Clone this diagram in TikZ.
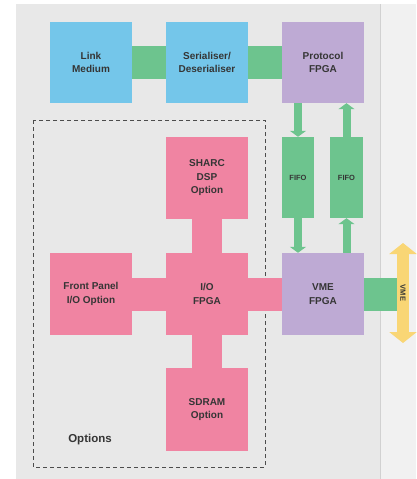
\documentclass[tikz,border=0pt]{standalone}
\usepackage{fontspec}
\setmainfont{Liberation Sans}
\usetikzlibrary{arrows.meta}
\definecolor{panel}{HTML}{E8E8E8}
\definecolor{strip}{HTML}{F1F1F1}
\definecolor{cblue}{HTML}{74C6EA}
\definecolor{cpink}{HTML}{F084A2}
\definecolor{cpurple}{HTML}{BEAAD4}
\definecolor{cgreen}{HTML}{6DC48E}
\definecolor{cyellow}{HTML}{F9D675}
\definecolor{ctext}{HTML}{353535}
\tikzset{
  blk/.style={draw=none, minimum width=82pt, minimum height=82pt, inner sep=1pt, align=center,
    text=ctext, font=\fontsize{10}{13.5}\selectfont\bfseries},
  bluebox/.style={blk, fill=cblue},
  pinkbox/.style={blk, fill=cpink},
  purplebox/.style={blk, fill=cpurple},
  fifobox/.style={blk, fill=cgreen, minimum width=32pt, minimum height=81pt, font=\fontsize{7.5}{9}\selectfont\bfseries},
  gconn/.style={cgreen, line width=33pt},
  pconn/.style={cpink, line width=33pt},
  pvconn/.style={cpink, line width=30pt},
  fifoarrow/.style={cgreen, line width=8pt, -{Triangle[width=16pt,length=6pt]}},
}
\begin{document}
\begin{tikzpicture}[x=1pt,y=-1pt]
\useasboundingbox (0,0) rectangle (416,479);
\fill[white] (0,0) rectangle (416,479);
\fill[panel] (16,4) rectangle (380,479);
\fill[strip] (380,4) rectangle (416,479);
\draw[black!18, line width=0.8pt] (380,4) -- (380,479);
% options frame
\draw[black!70, line width=0.9pt, dash pattern=on 4pt off 3pt] (33,120) rectangle (265,467);
\node[font=\fontsize{11.5}{13}\selectfont\bfseries, text=ctext] (optlbl) at (90,440) {Options};
% blocks
\node[bluebox, minimum height=81pt] (link) at (91,62.5) {Link\\Medium};
\node[bluebox, minimum height=81pt] (ser) at (207,62.5) {Serialiser/\\Deserialiser};
\node[purplebox, minimum height=81pt] (proto) at (323,62.5) {Protocol\\FPGA};
\node[pinkbox] (sharc) at (207,178) {SHARC\\DSP\\Option};
\node[pinkbox] (io) at (207,294) {I/O\\FPGA};
\node[pinkbox] (fp) at (91,294) {Front Panel\\I/O Option};
\node[purplebox] (vme) at (323,294) {VME\\FPGA};
\node[pinkbox, minimum height=83pt] (sdram) at (207,409.5) {SDRAM\\Option};
\node[fifobox] (fifol) at (298,177.5) {FIFO};
\node[fifobox, minimum width=33pt] (fifor) at (346.5,177.5) {FIFO};
% connectors
\draw[gconn] (link.east) -- (ser.west);
\draw[gconn] (ser.east) -- (proto.west);
\draw[pvconn] (sharc.south) -- (io.north);
\draw[pvconn] (io.south) -- (sdram.north);
\draw[pconn] (fp.east) -- (io.west);
\draw[pconn] (io.east) -- (vme.west);
\draw[fifoarrow] (proto.south -| fifol) -- (fifol.north);
\draw[fifoarrow] (fifol.south) -- (vme.north -| fifol);
\draw[fifoarrow] (vme.north -| fifor) -- (fifor.south);
\draw[fifoarrow] (fifor.north) -- (proto.south -| fifor);
% VME bus
\coordinate (bustop) at (403,243);
\coordinate (busbot) at (403,343);
\coordinate (busleft) at (397,294);
\draw[gconn] (vme.east) -- (busleft);
\draw[cyellow, line width=12pt, {Triangle[width=27pt,length=11pt]}-{Triangle[width=27pt,length=11pt]}] (bustop) -- (busbot);
\node[rotate=-90, font=\fontsize{7.5}{9}\selectfont\bfseries, text=ctext] (buslbl) at (403,293) {VME};
\end{tikzpicture}
\end{document}
